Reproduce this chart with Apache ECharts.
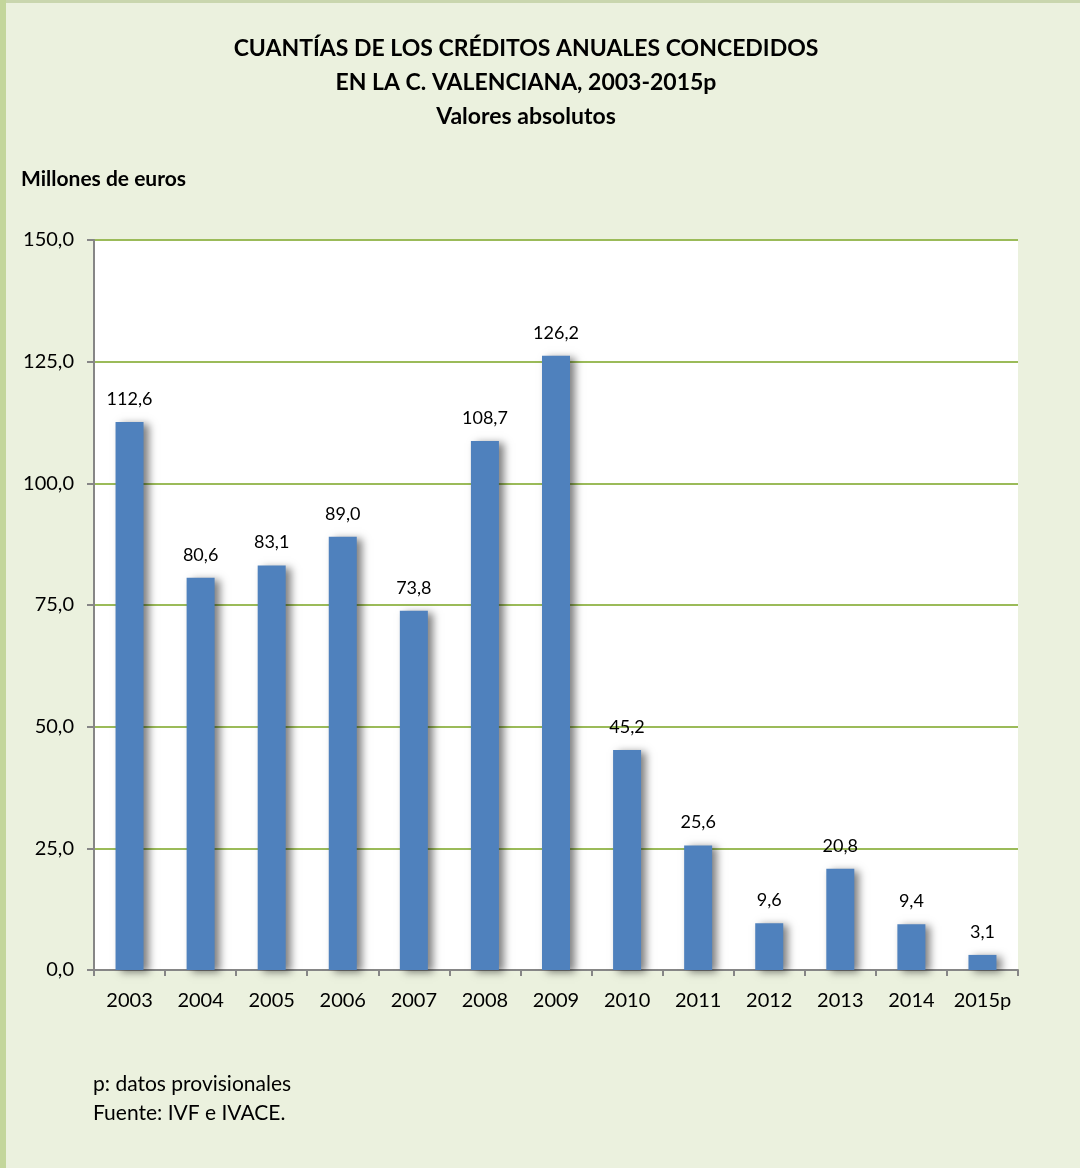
<!DOCTYPE html>
<html><head><meta charset="utf-8">
<script src="https://cdn.jsdelivr.net/npm/echarts@6/dist/echarts.min.js"></script>
<style>html,body{margin:0;padding:0;background:#EBF1DE}#c{width:1080px;height:1168px}</style>
</head><body><div id="c"></div>
<script>
const categories = ['2003','2004','2005','2006','2007','2008','2009','2010','2011','2012','2013','2014','2015p'];
const values = [112.6, 80.6, 83.1, 89.0, 73.8, 108.7, 126.2, 45.2, 25.6, 9.6, 20.8, 9.4, 3.1];
const yTicks = {min: 0, max: 150, interval: 25};
const titleLines = ['CUANTÍAS DE LOS CRÉDITOS ANUALES CONCEDIDOS', 'EN LA C. VALENCIANA, 2003-2015p', 'Valores absolutos'];
const unitLabel = 'Millones de euros';
const notes = ['p: datos provisionales', 'Fuente: IVF e IVACE.'];

const fmt = v => Number(v).toFixed(1).replace('.', ',');
const FONT = 'Lato, "Open Sans", sans-serif';
const chart = echarts.init(document.getElementById('c'), null, {renderer: 'canvas'});
chart.setOption({
  backgroundColor: '#EBF1DE',
  animation: false,
  graphic: [
    {type: 'rect', shape: {x: 0, y: 0, width: 1080, height: 3}, style: {fill: '#C9D6AE'}, z: 100},
    {type: 'rect', shape: {x: 0, y: 0, width: 6, height: 1168}, style: {fill: '#C3D69B'}, z: 100},
    {type: 'text', x: 526, y: 32, style: {text: titleLines.join('\n'), textAlign: 'center', font: 'bold 23px ' + FONT, fill: '#000', lineHeight: 34}, z: 10},
    {type: 'text', left: 21, top: 169, style: {text: unitLabel, font: 'bold 21px ' + FONT, fill: '#000'}},
    {type: 'text', left: 93, top: 1070, style: {text: notes.join('\n'), font: '21px ' + FONT, fill: '#000', lineHeight: 29}}
  ],
  grid: {left: 94, right: 62, top: 240, bottom: 198, backgroundColor: '#FFFFFF', show: true, borderWidth: 0},
  xAxis: {
    type: 'category', data: categories, boundaryGap: true,
    axisLine: {lineStyle: {color: '#868686', width: 2}},
    axisTick: {show: true, alignWithLabel: false, interval: 0, length: 6, lineStyle: {color: '#868686', width: 2}},
    axisLabel: {color: '#000', fontSize: 20, fontFamily: FONT, margin: 21, interval: 0}
  },
  yAxis: {
    type: 'value', min: yTicks.min, max: yTicks.max, interval: yTicks.interval,
    axisLine: {show: true, lineStyle: {color: '#868686', width: 2}},
    axisTick: {show: true, length: 7, lineStyle: {color: '#868686', width: 2}},
    splitLine: {lineStyle: {color: '#9BBB59', width: 2}},
    axisLabel: {color: '#000', fontSize: 20, fontFamily: FONT, margin: 20, formatter: v => fmt(v)}
  },
  series: [{
    type: 'bar', data: values, barWidth: 28,
    itemStyle: {color: '#4F81BD', shadowColor: 'rgba(0,0,0,0.5)', shadowBlur: 8, shadowOffsetX: 5, shadowOffsetY: 2},
    label: {show: true, position: 'top', distance: 14, color: '#000', fontSize: 18, fontFamily: FONT, formatter: p => fmt(p.value)}
  }]
});
</script></body></html>
